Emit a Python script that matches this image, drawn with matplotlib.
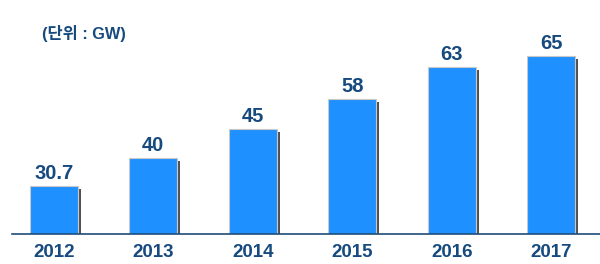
import matplotlib
matplotlib.use("Agg")
import matplotlib.pyplot as plt
import matplotlib.patheffects as pe

# 데이터
years = ["2012", "2013", "2014", "2015", "2016", "2017"]
labels = ["30.7", "40", "45", "58", "63", "65"]
# 그림에서 읽은 막대 높이 (원본 그림은 값에 비례하지 않음)
heights = [48, 76, 105, 135, 167, 178]

bar_color = "#1E90FF"
text_color = "#174A7E"
line_color = "#1F4E79"

plt.rcParams["font.family"] = ["Liberation Sans", "Noto Sans CJK KR"]

fig = plt.figure(figsize=(6, 2.64), dpi=100)
ax = fig.add_axes([12 / 600, 30 / 264, 588 / 600, 234 / 264])

x = list(range(len(years)))
bars = ax.bar(x, heights, width=0.483, color=bar_color, edgecolor="#c8c8c8",
              linewidth=0.8, zorder=2)
for b in bars:
    b.set_path_effects([pe.SimplePatchShadow(offset=(2, -2), shadow_rgbFace="#505050", alpha=1.0),
                        pe.Normal()])

for xi, h, lab in zip(x, heights, labels):
    ax.text(xi, h + 3, lab, ha="center", va="bottom", fontsize=14.5,
            fontweight="bold", color=text_color)

ax.set_xlim(-0.42, 5.49)
ax.set_ylim(0, 234)
ax.set_xticks(x)
ax.set_xticklabels(years, fontsize=13.5, fontweight="bold", color=text_color)
ax.tick_params(axis="x", length=0, pad=7)
ax.set_yticks([])
for s in ["top", "right", "left"]:
    ax.spines[s].set_visible(False)
ax.spines["bottom"].set_color(line_color)
ax.spines["bottom"].set_linewidth(1.2)
ax.spines["bottom"].set_zorder(3)

fig.text(42 / 600, 1 - 34 / 264, "(단위 : GW)", ha="left", va="center", fontsize=11.8,
         fontweight="bold", color=text_color)

fig.savefig("out.png", dpi=100)
